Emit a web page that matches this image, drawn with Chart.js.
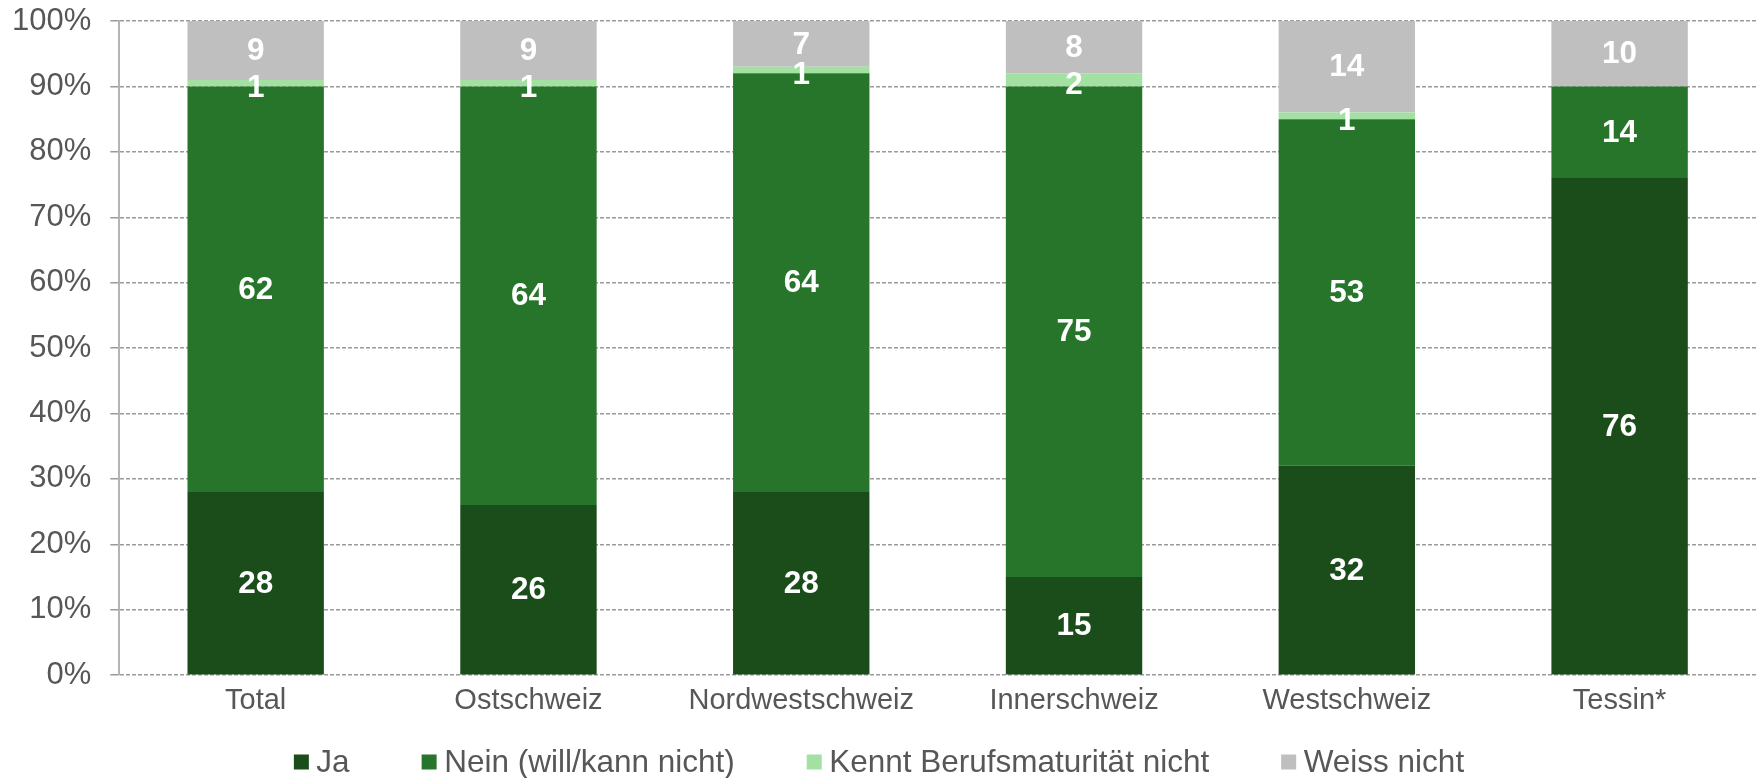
<!DOCTYPE html>
<html lang="de">
<head>
    <meta charset="UTF-8">
    <title>Berufsmaturität nach Region</title>
    <script src="https://cdn.jsdelivr.net/npm/chart.js"></script>
    <style>
        * {
            margin: 0;
            padding: 0;
        }

        body {
            background-color: #fff;
        }

        #wrap {
            width: 1758px;
            height: 778px;
        }
    </style>
</head>
<body>
    <div id="wrap">
        <canvas id="myChart"></canvas>
    </div>

    <script>
        const regions = ['Total', 'Ostschweiz', 'Nordwestschweiz', 'Innerschweiz', 'Westschweiz', 'Tessin*'];
        const ja = [28, 26, 28, 15, 32, 76];
        const nein = [62, 64, 64, 75, 53, 14];
        const kenntNicht = [1, 1, 1, 2, 1, 0];
        const weissNicht = [9, 9, 7, 8, 14, 10];
        const yTicks = [0, 10, 20, 30, 40, 50, 60, 70, 80, 90, 100];

        const font = "'Liberation Sans', Arial, sans-serif";
        const textColor = '#555855';

        // white numbers in the middle of each segment
        const segmentLabels = {
            id: 'segmentLabels',
            afterDatasetsDraw(chart) {
                const ctx = chart.ctx;
                ctx.save();
                ctx.fillStyle = '#fff';
                ctx.font = 'bold 31.5px ' + font;
                ctx.textAlign = 'center';
                ctx.textBaseline = 'middle';
                chart.data.datasets.forEach(function (ds, i) {
                    chart.getDatasetMeta(i).data.forEach(function (bar, j) {
                        const v = ds.data[j];
                        if (!v) return;
                        // thin slices get their number pushed down a bit, like the original
                        const shift = (bar.base - bar.y) < 20 ? 5 : 1;
                        ctx.fillText(v, bar.x, (bar.y + bar.base) / 2 + shift);
                    });
                });
                ctx.restore();
            }
        };

        // legend row at the bottom, drawn by hand so the gaps match
        const bottomLegend = {
            id: 'bottomLegend',
            afterDraw(chart) {
                const ctx = chart.ctx;
                const box = 15, gapText = 7.5, gapItem = 72, y = 762;
                ctx.save();
                ctx.font = '31.5px ' + font;
                ctx.textBaseline = 'middle';
                const items = chart.data.datasets.map(ds => ({
                    text: ds.label,
                    color: ds.backgroundColor,
                    w: ctx.measureText(ds.label).width
                }));
                let total = 0;
                items.forEach((it, i) => {
                    total += box + gapText + it.w + (i < items.length - 1 ? gapItem : 0);
                });
                let x = (chart.width - total) / 2;
                items.forEach(it => {
                    ctx.fillStyle = it.color;
                    ctx.fillRect(x, y - box / 2, box, box);
                    ctx.fillStyle = textColor;
                    ctx.fillText(it.text, x + box + gapText, y + 1);
                    x += box + gapText + it.w + gapItem;
                });
                ctx.restore();
            }
        };

        const data = {
            labels: regions,
            datasets: [
                { label: 'Ja', data: ja, backgroundColor: '#1b4d1b' },
                { label: 'Nein (will/kann nicht)', data: nein, backgroundColor: '#26752b' },
                { label: 'Kennt Berufsmaturität nicht', data: kenntNicht, backgroundColor: '#a3e1a3' },
                { label: 'Weiss nicht', data: weissNicht, backgroundColor: '#bfbfbf' }
            ]
        };

        const config = {
            type: 'bar',
            data: data,
            plugins: [segmentLabels, bottomLegend],
            options: {
                responsive: true,
                maintainAspectRatio: false,
                animation: false,
                layout: {
                    padding: { top: 21, left: -7, right: 2, bottom: 60 }
                },
                datasets: {
                    bar: {
                        barPercentage: 0.5,
                        categoryPercentage: 1,
                        borderWidth: 0
                    }
                },
                scales: {
                    x: {
                        stacked: true,
                        grid: { display: false },
                        border: { display: false },
                        ticks: {
                            color: textColor,
                            padding: 0,
                            font: { family: font, size: 29 }
                        }
                    },
                    y: {
                        stacked: true,
                        min: 0,
                        max: 100,
                        afterBuildTicks(axis) {
                            axis.ticks = yTicks.map(v => ({ value: v }));
                        },
                        afterFit(axis) {
                            // top label fits inside the layout padding
                            axis.paddingTop = 0;
                        },
                        grid: {
                            color: '#9a9a9a',
                            lineWidth: 1.5,
                            tickLength: 9,
                            tickColor: '#9a9a9a'
                        },
                        border: {
                            display: true,
                            color: '#b5b5b0',
                            width: 2,
                            dash: [4, 2]
                        },
                        ticks: {
                            color: textColor,
                            padding: 19,
                            font: { family: font, size: 31 },
                            callback: v => v + '%'
                        }
                    }
                },
                plugins: {
                    tooltip: { enabled: false },
                    legend: { display: false }
                }
            }
        };

        const ctx = document.getElementById('myChart');
        new Chart(ctx, config);
    </script>
</body>
</html>
